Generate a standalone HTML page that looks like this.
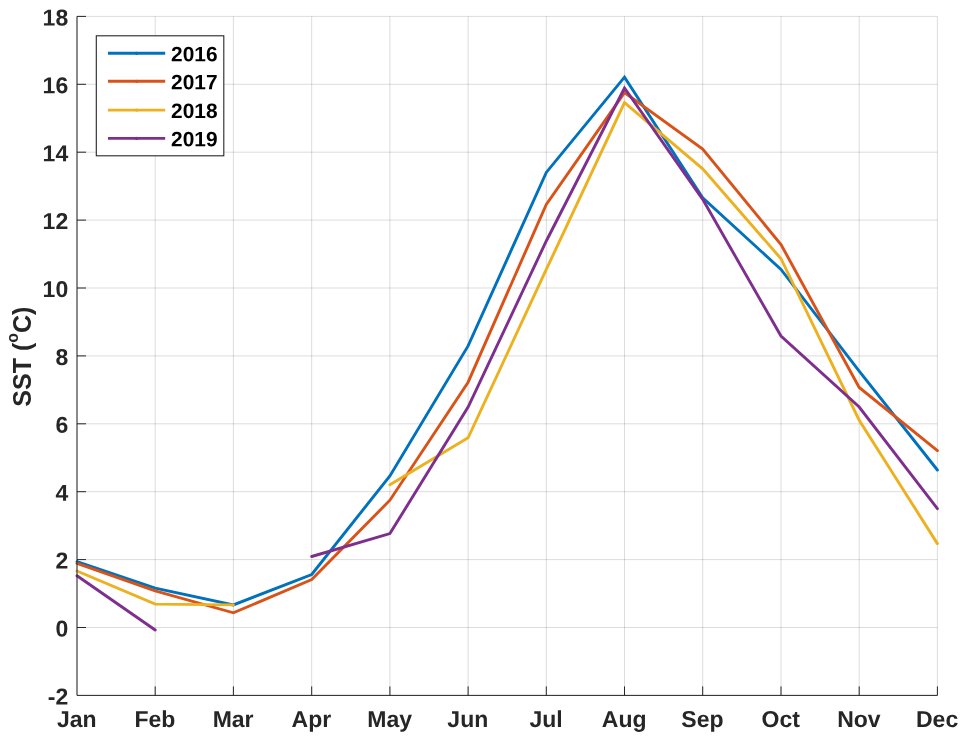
<!DOCTYPE html>
<html><head><meta charset="utf-8"><title>SST</title>
<style>html,body{margin:0;padding:0;background:#fff}svg{display:block}text{font-family:"Liberation Sans",Arial,sans-serif;font-weight:bold}</style></head>
<body>
<svg width="967" height="742" viewBox="0 0 967 742">
<rect width="967" height="742" fill="#fff"/>
<g stroke="#262626" stroke-opacity="0.16" stroke-width="1" fill="none">
<line x1="77.0" y1="16.4" x2="77.0" y2="695.4"/>
<line x1="155.2" y1="16.4" x2="155.2" y2="695.4"/>
<line x1="233.4" y1="16.4" x2="233.4" y2="695.4"/>
<line x1="311.7" y1="16.4" x2="311.7" y2="695.4"/>
<line x1="389.9" y1="16.4" x2="389.9" y2="695.4"/>
<line x1="468.1" y1="16.4" x2="468.1" y2="695.4"/>
<line x1="546.3" y1="16.4" x2="546.3" y2="695.4"/>
<line x1="624.5" y1="16.4" x2="624.5" y2="695.4"/>
<line x1="702.7" y1="16.4" x2="702.7" y2="695.4"/>
<line x1="781.0" y1="16.4" x2="781.0" y2="695.4"/>
<line x1="859.2" y1="16.4" x2="859.2" y2="695.4"/>
<line x1="937.4" y1="16.4" x2="937.4" y2="695.4"/>
<line x1="77.0" y1="695.4" x2="937.4" y2="695.4"/>
<line x1="77.0" y1="627.5" x2="937.4" y2="627.5"/>
<line x1="77.0" y1="559.6" x2="937.4" y2="559.6"/>
<line x1="77.0" y1="491.7" x2="937.4" y2="491.7"/>
<line x1="77.0" y1="423.8" x2="937.4" y2="423.8"/>
<line x1="77.0" y1="355.9" x2="937.4" y2="355.9"/>
<line x1="77.0" y1="288.0" x2="937.4" y2="288.0"/>
<line x1="77.0" y1="220.1" x2="937.4" y2="220.1"/>
<line x1="77.0" y1="152.2" x2="937.4" y2="152.2"/>
<line x1="77.0" y1="84.3" x2="937.4" y2="84.3"/>
<line x1="77.0" y1="16.4" x2="937.4" y2="16.4"/>
</g>
<path d="M77.0 561.7 L155.2 588.2 L233.4 604.9 L311.7 574.5 L389.9 475.9 L468.1 345.9 L546.3 172.4 L624.5 77.1 L702.7 197.9 L781.0 269.4 L859.2 371.1 L937.4 470.0" fill="none" stroke="#0072BD" stroke-width="2.9" stroke-linejoin="miter" stroke-linecap="round"/>
<path d="M77.0 563.4 L155.2 590.9 L233.4 612.8 L311.7 579.6 L389.9 500.2 L468.1 382.2 L546.3 204.4 L624.5 92.6 L702.7 149.1 L781.0 244.5 L859.2 387.5 L937.4 450.6" fill="none" stroke="#D95319" stroke-width="2.9" stroke-linejoin="miter" stroke-linecap="round"/>
<path d="M77.0 571.0 L155.2 604.1 L233.4 604.9 M389.9 484.8 L468.1 437.8 L546.3 269.4 L624.5 102.7 L702.7 168.8 L781.0 258.7 L859.2 420.2 L937.4 543.6" fill="none" stroke="#EDB120" stroke-width="2.9" stroke-linejoin="miter" stroke-linecap="round"/>
<path d="M77.0 575.8 L155.2 630.0 M311.7 556.5 L389.9 533.6 L468.1 407.1 L546.3 241.0 L624.5 88.0 L702.7 199.3 L781.0 336.0 L859.2 407.0 L937.4 508.7" fill="none" stroke="#7E2F8E" stroke-width="2.9" stroke-linejoin="miter" stroke-linecap="round"/>
<g stroke="#262626" stroke-width="1.0" fill="none">
<path d="M77.0 16.4 V695.4 H937.4"/>
<line x1="155.2" y1="695.4" x2="155.2" y2="686.4"/>
<line x1="233.4" y1="695.4" x2="233.4" y2="686.4"/>
<line x1="311.7" y1="695.4" x2="311.7" y2="686.4"/>
<line x1="389.9" y1="695.4" x2="389.9" y2="686.4"/>
<line x1="468.1" y1="695.4" x2="468.1" y2="686.4"/>
<line x1="546.3" y1="695.4" x2="546.3" y2="686.4"/>
<line x1="624.5" y1="695.4" x2="624.5" y2="686.4"/>
<line x1="702.7" y1="695.4" x2="702.7" y2="686.4"/>
<line x1="781.0" y1="695.4" x2="781.0" y2="686.4"/>
<line x1="859.2" y1="695.4" x2="859.2" y2="686.4"/>
<line x1="937.4" y1="695.4" x2="937.4" y2="686.4"/>
<line x1="77.0" y1="627.5" x2="86.0" y2="627.5"/>
<line x1="77.0" y1="559.6" x2="86.0" y2="559.6"/>
<line x1="77.0" y1="491.7" x2="86.0" y2="491.7"/>
<line x1="77.0" y1="423.8" x2="86.0" y2="423.8"/>
<line x1="77.0" y1="355.9" x2="86.0" y2="355.9"/>
<line x1="77.0" y1="288.0" x2="86.0" y2="288.0"/>
<line x1="77.0" y1="220.1" x2="86.0" y2="220.1"/>
<line x1="77.0" y1="152.2" x2="86.0" y2="152.2"/>
<line x1="77.0" y1="84.3" x2="86.0" y2="84.3"/>
<line x1="77.0" y1="16.4" x2="86.0" y2="16.4"/>
</g>
<g font-size="23" fill="#262626">
<text transform="translate(76.7,727) rotate(0.03)" text-anchor="middle">Jan</text>
<text transform="translate(154.9,727) rotate(0.03)" text-anchor="middle">Feb</text>
<text transform="translate(233.1,727) rotate(0.03)" text-anchor="middle">Mar</text>
<text transform="translate(311.4,727) rotate(0.03)" text-anchor="middle">Apr</text>
<text transform="translate(389.6,727) rotate(0.03)" text-anchor="middle">May</text>
<text transform="translate(467.8,727) rotate(0.03)" text-anchor="middle">Jun</text>
<text transform="translate(546.0,727) rotate(0.03)" text-anchor="middle">Jul</text>
<text transform="translate(624.2,727) rotate(0.03)" text-anchor="middle">Aug</text>
<text transform="translate(702.4,727) rotate(0.03)" text-anchor="middle">Sep</text>
<text transform="translate(780.7,727) rotate(0.03)" text-anchor="middle">Oct</text>
<text transform="translate(858.9,727) rotate(0.03)" text-anchor="middle">Nov</text>
<text transform="translate(937.1,727) rotate(0.03)" text-anchor="middle">Dec</text>
<text transform="translate(68.2,704.4) rotate(0.03)" text-anchor="end">-2</text>
<text transform="translate(68.2,636.5) rotate(0.03)" text-anchor="end">0</text>
<text transform="translate(68.2,568.6) rotate(0.03)" text-anchor="end">2</text>
<text transform="translate(68.2,500.7) rotate(0.03)" text-anchor="end">4</text>
<text transform="translate(68.2,432.8) rotate(0.03)" text-anchor="end">6</text>
<text transform="translate(68.2,364.9) rotate(0.03)" text-anchor="end">8</text>
<text transform="translate(68.2,297.0) rotate(0.03)" text-anchor="end">10</text>
<text transform="translate(68.2,229.1) rotate(0.03)" text-anchor="end">12</text>
<text transform="translate(68.2,161.2) rotate(0.03)" text-anchor="end">14</text>
<text transform="translate(68.2,93.3) rotate(0.03)" text-anchor="end">16</text>
<text transform="translate(68.2,25.4) rotate(0.03)" text-anchor="end">18</text>
</g>
<text transform="translate(31.2,356.7) rotate(-90) scale(0.965,1)" font-size="26" fill="#262626" text-anchor="middle">SST (<tspan font-size="16.4" dy="-13.4">o</tspan><tspan dy="13.4">C)</tspan></text>
<rect x="96.3" y="35.8" width="127.5" height="120" fill="#fff" stroke="#262626" stroke-width="1.1"/>
<line x1="108" y1="53.3" x2="165.2" y2="53.3" stroke="#0072BD" stroke-width="2.9"/>
<circle cx="136.6" cy="53.3" r="1.6" fill="#0072BD"/>
<text transform="translate(171.1,61.2) rotate(0.03)" font-size="20.9" fill="#000">2016</text>
<line x1="108" y1="81.3" x2="165.2" y2="81.3" stroke="#D95319" stroke-width="2.9"/>
<circle cx="136.6" cy="81.3" r="1.6" fill="#D95319"/>
<text transform="translate(171.1,89.2) rotate(0.03)" font-size="20.9" fill="#000">2017</text>
<line x1="108" y1="110.1" x2="165.2" y2="110.1" stroke="#EDB120" stroke-width="2.9"/>
<circle cx="136.6" cy="110.1" r="1.6" fill="#EDB120"/>
<text transform="translate(171.1,118.0) rotate(0.03)" font-size="20.9" fill="#000">2018</text>
<line x1="108" y1="138.4" x2="165.2" y2="138.4" stroke="#7E2F8E" stroke-width="2.9"/>
<circle cx="136.6" cy="138.4" r="1.6" fill="#7E2F8E"/>
<text transform="translate(171.1,146.3) rotate(0.03)" font-size="20.9" fill="#000">2019</text>
</svg>
</body></html>
